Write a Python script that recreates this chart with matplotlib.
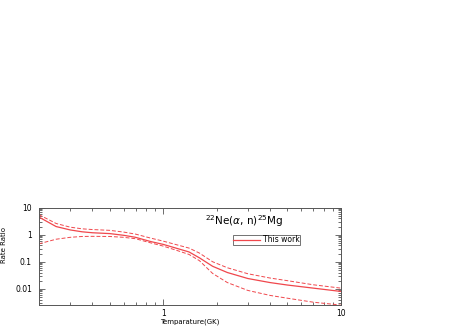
import matplotlib
matplotlib.use("Agg")
import matplotlib.pyplot as plt
from matplotlib.ticker import LogLocator, NullFormatter, FixedLocator, FixedFormatter

# Temperature grid (GK) and rate ratios
temp = [0.2, 0.25, 0.3, 0.35, 0.4, 0.5, 0.6, 0.7, 0.85, 1.0, 1.2, 1.4, 1.6,
        1.9, 2.3, 3.0, 4.0, 5.0, 7.0, 10.0]
ratio = [4.5, 2.0, 1.5, 1.28, 1.18, 1.1, 0.95, 0.8, 0.56, 0.44, 0.31, 0.23,
         0.14, 0.068, 0.04, 0.024, 0.017, 0.0138, 0.0106, 0.008]
upper = [5.5, 2.6, 1.9, 1.65, 1.55, 1.45, 1.25, 1.05, 0.75, 0.58, 0.42, 0.32,
         0.21, 0.1, 0.06, 0.036, 0.025, 0.02, 0.0141, 0.0106]
lower = [0.46, 0.68, 0.8, 0.86, 0.87, 0.86, 0.8, 0.71, 0.5, 0.38, 0.26, 0.186,
         0.11, 0.037, 0.017, 0.0087, 0.0057, 0.0045, 0.0032, 0.0025]

red = "#f0474c"

fig = plt.figure(figsize=(4.63, 3.27), dpi=100)
ax = fig.add_axes([0.084, 0.067, 0.652, 0.298])

ax.plot(temp, ratio, color=red, lw=0.9, label="This work")
ax.plot(temp, upper, color=red, lw=0.7, ls=(0, (4, 2)))
ax.plot(temp, lower, color=red, lw=0.7, ls=(0, (4, 2)))

ax.set_xscale("log")
ax.set_yscale("log")
ax.set_xlim(0.2, 10)
ax.set_ylim(0.0025, 10)

ax.xaxis.set_major_locator(FixedLocator([1, 10]))
ax.xaxis.set_major_formatter(FixedFormatter(["1", "10"]))
ax.xaxis.set_minor_locator(LogLocator(base=10, subs=range(2, 10)))
ax.xaxis.set_minor_formatter(NullFormatter())
ax.yaxis.set_major_locator(FixedLocator([0.01, 0.1, 1, 10]))
ax.yaxis.set_major_formatter(FixedFormatter(["0.01", "0.1", "1", "10"]))
ax.yaxis.set_minor_locator(LogLocator(base=10, subs=range(2, 10)))
ax.yaxis.set_minor_formatter(NullFormatter())

ax.tick_params(which="both", direction="in", top=True, right=True,
               labelsize=5.5, width=0.6, color="#555555")
ax.tick_params(which="major", length=4)
ax.tick_params(axis="y", which="major", pad=5)
ax.tick_params(axis="x", which="major", pad=3)
ax.tick_params(which="minor", length=2)
for s in ax.spines.values():
    s.set_linewidth(0.7)
    s.set_color("#555555")

ax.set_xlabel("Temparature(GK)", fontsize=5)
ax.xaxis.set_label_coords(0.5, -0.135)
ax.set_ylabel("Rate Ratio", fontsize=5)
ax.yaxis.set_label_coords(-0.105, 0.62)

ax.text(0.55, 0.86, r"$^{22}$Ne($\alpha$, n)$^{25}$Mg", transform=ax.transAxes,
        fontsize=7.5, va="center")

leg = ax.legend(loc="upper left", bbox_to_anchor=(0.642, 0.72), fontsize=5.5,
                frameon=True, fancybox=False, edgecolor="#333333",
                handlelength=3.5, borderpad=0.05, handletextpad=0.4,
                borderaxespad=0)
leg.get_frame().set_linewidth(0.6)

fig.savefig("out.png", dpi=100)
